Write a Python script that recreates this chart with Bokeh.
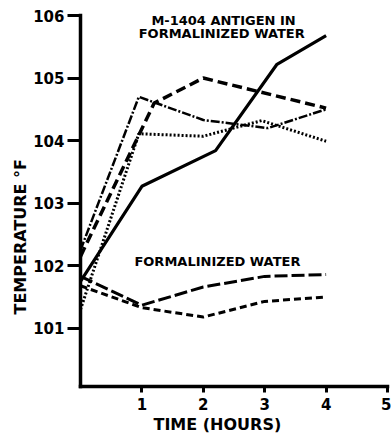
from bokeh.plotting import figure
from bokeh.models import Range1d, FixedTicker, Label, Title
from bokeh.embed import file_html
from bokeh.resources import INLINE

# ---- data ----
# M-1404 antigen in formalinized water
ag_solid_t = [0, 1.0, 2.2, 3.2, 4.0]
ag_solid_T = [101.75, 103.27, 103.84, 105.22, 105.68]
ag_dash_t = [0, 1.2, 2.0, 4.0]
ag_dash_T = [102.15, 104.6, 105.0, 104.52]
ag_dashdot_t = [0, 0.95, 2.0, 3.05, 4.0]
ag_dashdot_T = [102.25, 104.7, 104.33, 104.2, 104.5]
ag_dot_t = [0, 0.95, 2.0, 2.95, 4.0]
ag_dot_T = [101.3, 104.11, 104.07, 104.32, 103.99]
# Formalinized water
fw_t = [0, 1, 2, 3, 4]
fw_long_T = [101.83, 101.37, 101.66, 101.83, 101.86]
fw_short_T = [101.68, 101.33, 101.18, 101.43, 101.5]

x_ticks = [1, 2, 3, 4, 5]
y_ticks = [101, 102, 103, 104, 105, 106]

FONT = "DejaVu Sans"

p = figure(width=391, height=438, output_backend="svg", toolbar_location=None,
           x_range=Range1d(0, 5), y_range=Range1d(100.07, 106),
           min_border_left=80, min_border_right=4, min_border_top=15,
           min_border_bottom=52)
p.outline_line_color = None
p.xgrid.visible = False
p.ygrid.visible = False
p.background_fill_color = "white"
p.border_fill_color = "white"

for ax in (p.xaxis[0], p.yaxis[0]):
    ax.axis_line_width = 3.5
    ax.axis_line_color = "black"
    ax.axis_line_cap = "square"
    ax.major_tick_line_width = 3
    ax.major_tick_line_color = "black"
    ax.minor_tick_line_color = None
    ax.major_tick_in = 0
    ax.major_label_text_font = FONT
    ax.major_label_text_font_style = "bold"
    ax.major_label_text_font_size = "15px"
    ax.major_label_text_color = "black"

p.yaxis[0].ticker = FixedTicker(ticks=y_ticks)
p.yaxis[0].major_tick_out = 13
p.yaxis[0].major_label_standoff = 3
p.xaxis[0].ticker = FixedTicker(ticks=x_ticks)
p.xaxis[0].major_tick_out = 6
p.xaxis[0].major_label_standoff = 5

# axis titles
p.add_layout(Title(text="TEMPERATURE  °F", text_font=FONT, text_font_style="bold",
                   text_font_size="16px", text_color="black", align="left",
                   offset=72, standoff=2), "left")
p.add_layout(Title(text="TIME  (HOURS)", text_font=FONT, text_font_style="bold",
                   text_font_size="16px", text_color="black", align="left",
                   offset=73, standoff=0), "below")

# antigen series
p.line(ag_solid_t, ag_solid_T, line_color="black", line_width=3.2)
p.line(ag_dash_t, ag_dash_T, line_color="black", line_width=3.5, line_dash="10 5")
p.line(ag_dashdot_t, ag_dashdot_T, line_color="black", line_width=2.5, line_dash="9 2 2 2")
p.line(ag_dot_t, ag_dot_T, line_color="black", line_width=3, line_dash="2 2")
# water series
p.line(fw_t, fw_long_T, line_color="black", line_width=3, line_dash="13 4")
p.line(fw_t, fw_short_T, line_color="black", line_width=3, line_dash="7 4")

def lab(x, y, text, size="13px"):
    p.add_layout(Label(x=x, y=y, text=text, text_font=FONT, text_font_style="bold",
                       text_font_size=size, text_align="center", text_baseline="middle",
                       text_color="black"))

lab(2.33, 105.92, "M-1404 ANTIGEN IN")
lab(2.30, 105.71, "FORMALINIZED WATER")
lab(2.23, 102.07, "FORMALINIZED WATER")

open("out.html", "w").write(file_html(p, INLINE))
